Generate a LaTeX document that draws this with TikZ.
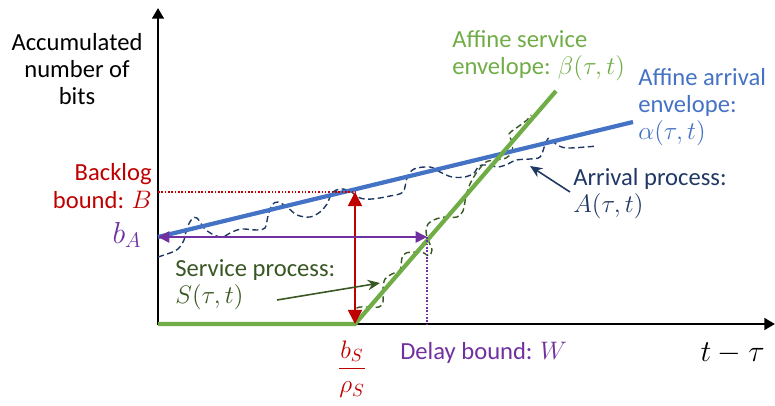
\documentclass[tikz,border=0pt]{standalone}
\usepackage{amsmath}
\usepackage{fontspec}
\setmainfont{Carlito}
\usepackage{tikz}
\usetikzlibrary{arrows.meta, positioning}
\definecolor{envgreen}{HTML}{70AD47}
\definecolor{envblue}{HTML}{4472C4}
\definecolor{boundred}{HTML}{C00000}
\definecolor{delaypurple}{HTML}{7030A0}
\definecolor{arrnavy}{HTML}{203864}
\definecolor{servgreen}{HTML}{385723}

\begin{document}
\begin{tikzpicture}[x=0.02cm, y=-0.02cm,
    font=\fontsize{14}{15.5}\selectfont,
    axis/.style={line width=1.7pt, black},
    envline/.style={line width=2.4pt},
    process/.style={line width=0.8pt, dash pattern=on 3.5pt off 2pt},
    label/.style={inner sep=0pt, align=left},
    bound/.style={line width=0.9pt}]
    \useasboundingbox (0,0) rectangle (775,406);

    % axes
    \coordinate (O) at (158,324);
    \coordinate (ytop) at (158,8);
    \coordinate (xend) at (775,324);
    \draw[axis, {Triangle[length=6pt,width=6.5pt]}-{Triangle[length=6pt,width=6.5pt]}] (ytop) -- (O) -- (xend);

    % key points
    \coordinate (bA) at (158,237);
    \coordinate (alphaend) at (633,122);
    \coordinate (bS) at (355,324);
    \coordinate (betaend) at (556,91);
    \coordinate (Btop) at (355,192);
    \coordinate (Bleft) at (158,192);
    \coordinate (Wpt) at (427,237);

    % arrival process
    \draw[process, arrnavy] plot[smooth, tension=0.55] coordinates {
        (158,257) (170,253) (178,249) (184,240) (187,228) (192,219) (197,218)
        (204,228) (212,234) (222,237) (232,232) (242,229) (257,230) (265,228)
        (268,216) (272,205) (278,202) (287,207) (297,215) (310,217) (320,212)
        (327,204) (332,193) (340,189) (350,191) (360,198) (372,199) (390,196)
        (403,192) (407,178) (414,169) (430,167) (440,172) (452,177) (465,177)
        (474,173) (479,166) (488,165) (498,167) (508,164) (516,160) (530,159)
        (540,157) (545,145) (549,138) (556,144) (567,148) (597,146)};

    % service process
    \draw[process, servgreen] plot[smooth, tension=0.55] coordinates {
        (356,318) (357,308) (368,307) (379,307) (383,302) (383,289) (385,279)
        (392,274) (400,270) (402,258) (406,253) (417,252) (424,253) (429,256)
        (432,250) (429,242) (426,232) (428,224) (436,219) (445,217) (457,217)
        (463,211) (466,196) (470,184) (477,172) (486,162) (496,160) (506,158)
        (512,152) (512,142) (509,134) (515,129) (527,120) (531,115)};

    % envelopes
    \draw[envline, envblue] (bA) -- (alphaend);
    \draw[envline, envgreen] (O) -- (bS) -- (betaend);

    % backlog bound
    \draw[boundred, densely dotted, line width=0.9pt] (Bleft) -- (Btop);
    \draw[bound, boundred, {Triangle[length=8pt,width=8pt]}-{Triangle[length=8pt,width=8pt]}] (bS) -- (Btop);

    % delay bound
    \draw[bound, delaypurple, {Triangle[length=6.5pt,width=6.5pt]}-{Triangle[length=6.5pt,width=6.5pt]}] (bA) -- (Wpt);
    \draw[delaypurple, densely dotted, line width=0.9pt] (Wpt) -- (Wpt |- O);

    % labels
    \node[label, align=center] (ylab) at (77,69) {Accumulated\\number of\\bits};
    \node[label, anchor=west, text=envgreen] (betalab) at (452,56) {Affine service\\envelope: $\beta(\tau,t)$};
    \node[label, anchor=west, text=envblue] (alphalab) at (638,107) {Affine arrival\\envelope:\\$\alpha(\tau,t)$};
    \node[label, anchor=west, text=arrnavy] (arrlab) at (573,194) {Arrival process:\\$A(\tau,t)$};
    \node[label, anchor=east, align=right, text=boundred] (Blab) at (152,186) {Backlog\\bound: $B$};
    \node[label, text=delaypurple] (bAlab) at (127,235) {\LARGE$b_A$};
    \node[label, anchor=west, text=servgreen] (servlab) at (175,285) {Service process:\\$S(\tau,t)$};
    \node[label, text=boundred] (bSlab) at (352,369) {\Large$\dfrac{b_S}{\rho_S}$};
    \node[label, anchor=west, text=delaypurple] (Wlab) at (400,353) {Delay bound: $W$};
    \node[label, anchor=east] (tlab) at (765,353) {\LARGE$t-\tau$};

    % pointers
    \coordinate (arrtail) at (570,192);
    \coordinate (arrtip) at (530,166);
    \coordinate (servtail) at (277,300);
    \coordinate (servtip) at (380,283);
    \draw[bound, arrnavy, -{Stealth[length=7pt,width=6pt]}] (arrtail) -- (arrtip);
    \draw[bound, servgreen, -{Stealth[length=7pt,width=6pt]}] (servtail) -- (servtip);
\end{tikzpicture}
\end{document}
